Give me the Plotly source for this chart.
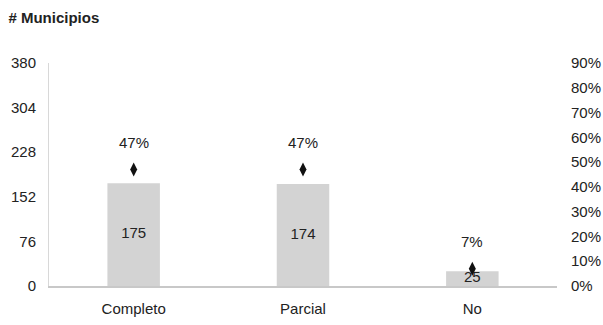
import plotly.graph_objects as go

categories = ["Completo", "Parcial", "No"]
counts = [175, 174, 25]
shares = [0.47, 0.47, 0.07]
left_ticks = [0, 76, 152, 228, 304, 380]
right_ticks = [0, 0.1, 0.2, 0.3, 0.4, 0.5, 0.6, 0.7, 0.8, 0.9]

FONT = "Liberation Sans Narrow, Arial Narrow, Liberation Sans, Arial, sans-serif"
TXT = "#222222"

fig = go.Figure()
fig.add_trace(go.Bar(
    x=categories, y=counts, marker=dict(color="#d3d3d3", line=dict(width=0)),
    width=0.31, showlegend=False, hoverinfo="skip",
))
fig.add_trace(go.Scatter(
    x=categories, y=[c / 2 for c in counts], mode="text",
    text=[str(c) for c in counts], textposition="middle center",
    textfont=dict(family=FONT, size=15, color=TXT), showlegend=False,
))
fig.add_trace(go.Scatter(
    x=categories, y=shares, yaxis="y2", mode="markers",
    marker=dict(symbol="diamond-tall", size=10, color="#111111"),
    showlegend=False,
))
for c, s in zip(categories, shares):
    fig.add_annotation(x=c, y=s, xref="x", yref="y2", yshift=27,
                       text=f"{round(s*100)}%", showarrow=False,
                       font=dict(family=FONT, size=15, color=TXT))

fig.update_layout(
    width=603, height=325,
    margin=dict(l=49, r=46, t=63, b=39),
    paper_bgcolor="white", plot_bgcolor="white",
    font=dict(family=FONT, size=15, color=TXT),
    title=dict(text="<b># Municipios</b>", x=0.014, xanchor="left",
               y=0.945, yanchor="middle",
               font=dict(family=FONT, size=15, color=TXT)),
    bargap=0.69,
    xaxis=dict(showline=True, linecolor="#c8c8c8", linewidth=1.5,
               showgrid=False, ticks="", ticklabelstandoff=8,
               range=[-0.5, 2.5], automargin=False),
    yaxis=dict(range=[0, 380], tickvals=left_ticks, showgrid=False,
               zeroline=False, showline=True, linecolor="#d8d8d8",
               linewidth=1, ticks="", ticklabelstandoff=9,
               automargin=False),
    yaxis2=dict(range=[0, 0.9], tickvals=right_ticks, tickformat=".0%",
                overlaying="y", side="right", showgrid=False,
                zeroline=False, showline=False, ticks="",
                ticklabelstandoff=13, automargin=False),
)

fig.write_html("out.html")
